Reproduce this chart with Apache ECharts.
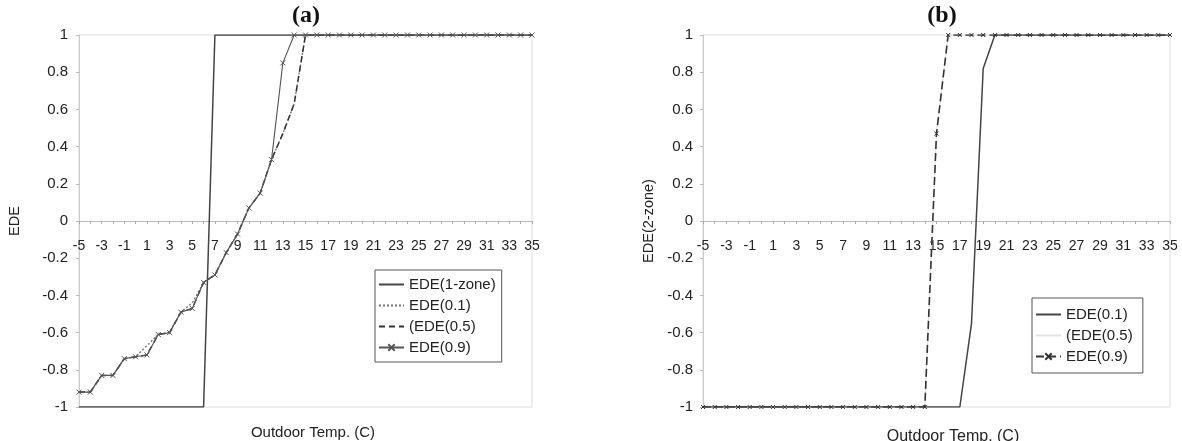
<!DOCTYPE html>
<html>
<head>
<meta charset="utf-8">
<script src="https://cdn.jsdelivr.net/npm/echarts@6/dist/echarts.min.js"></script>
<style>html,body{margin:0;padding:0;background:#fff}#c{width:1182px;height:441px}</style>
</head>
<body>
<div id="c"></div>
<script>
// Outdoor temperature categories (C)
const temps = [-5,-4,-3,-2,-1,0,1,2,3,4,5,6,7,8,9,10,11,12,13,14,15,16,17,18,19,20,21,22,23,24,25,26,27,28,29,30,31,32,33,34,35];
const yTicks = [-1,-0.8,-0.6,-0.4,-0.2,0,0.2,0.4,0.6,0.8,1];

// Panel (a)
const a_ede1zone = [-1,-1,-1,-1,-1,-1,-1,-1,-1,-1,-1,-1,1,1,1,1,1,1,1,1,1,1,1,1,1,1,1,1,1,1,1,1,1,1,1,1,1,1,1,1,1];
const a_ede01 = [-0.92,-0.92,-0.83,-0.83,-0.74,-0.73,-0.67,-0.61,-0.6,-0.49,-0.44,-0.33,-0.29,-0.17,-0.07,0.07,0.15,0.33,0.47,0.63,1,1,1,1,1,1,1,1,1,1,1,1,1,1,1,1,1,1,1,1,1];
const a_ede05 = [-0.92,-0.92,-0.83,-0.83,-0.74,-0.73,-0.72,-0.61,-0.6,-0.49,-0.47,-0.33,-0.29,-0.17,-0.07,0.07,0.15,0.33,0.47,0.63,1,1,1,1,1,1,1,1,1,1,1,1,1,1,1,1,1,1,1,1,1];
const a_ede09 = [-0.92,-0.92,-0.83,-0.83,-0.74,-0.73,-0.72,-0.61,-0.6,-0.49,-0.47,-0.33,-0.29,-0.17,-0.07,0.07,0.15,0.33,0.85,1,1,1,1,1,1,1,1,1,1,1,1,1,1,1,1,1,1,1,1,1,1];

// Panel (b)
const b_ede01 = [-1,-1,-1,-1,-1,-1,-1,-1,-1,-1,-1,-1,-1,-1,-1,-1,-1,-1,-1,-1,-1,-1,-1,-0.55,0.82,1,1,1,1,1,1,1,1,1,1,1,1,1,1,1,1];
const b_ede05 = [-1,-1,-1,-1,-1,-1,-1,-1,-1,-1,-1,-1,-1,-1,-1,-1,-1,-1,-1,-1,0.47,1,1,1,1,1,1,1,1,1,1,1,1,1,1,1,1,1,1,1,1];
const b_ede09 = [-1,-1,-1,-1,-1,-1,-1,-1,-1,-1,-1,-1,-1,-1,-1,-1,-1,-1,-1,-1,0.47,1,1,1,1,1,1,1,1,1,1,1,1,1,1,1,1,1,1,1,1];

const FONT = 'Liberation Sans, Arial, sans-serif';
const SERIF = 'Liberation Serif, Times New Roman, serif';
const xMark = 'path://M0,0L10,10M10,0L0,10';
const HIDE = 'rgba(0,0,0,0)';

function xAxisFor(idx) {
  return {
    type: 'category', gridIndex: idx, data: temps, boundaryGap: false,
    position: 'bottom', offset: -186,
    axisLine: { onZero: false, lineStyle: { color: '#bbb', width: 1 } },
    axisTick: { show: true, interval: 0, length: 3, lineStyle: { color: '#aaa' } },
    axisLabel: { interval: 1, color: '#222', fontSize: 14, fontFamily: FONT, margin: 18 },
    splitLine: { show: false }
  };
}
function yAxisFor(idx, name, gap, margin) {
  return {
    type: 'value', gridIndex: idx, min: -1, max: 1, interval: 0.2,
    name: name, nameLocation: 'middle', nameGap: gap, nameRotate: 90,
    nameTextStyle: { color: '#222', fontSize: 14.5, fontFamily: FONT },
    axisLine: { show: true, onZero: false, lineStyle: { color: '#ccc' } },
    axisTick: { show: true, length: 3, lineStyle: { color: '#bbb' } },
    axisLabel: { color: '#222', fontSize: 15, fontFamily: FONT, margin: margin,
      formatter: v => String(Math.round(v * 10) / 10) },
    splitLine: { show: false }
  };
}
function legendFor(left, top, pad, names) {
  return {
    orient: 'vertical', left: left, top: top, padding: pad, itemGap: 4,
    itemWidth: 25, itemHeight: 8, borderColor: '#555', borderWidth: 1, borderRadius: 0,
    textStyle: { fontFamily: FONT, fontSize: 15, color: '#222', lineHeight: 17 },
    data: names
  };
}

const option = {
  backgroundColor: '#fff',
  animation: false,
  title: [
    { text: '(a)', left: 301, top: -1, textAlign: 'center',
      textStyle: { fontFamily: SERIF, fontWeight: 'bold', fontSize: 24, color: '#111' } },
    { text: '(b)', left: 937, top: -1, textAlign: 'center',
      textStyle: { fontFamily: SERIF, fontWeight: 'bold', fontSize: 24, color: '#111' } },
    { text: 'Outdoor Temp. (C)', left: 308, top: 420, textAlign: 'center',
      textStyle: { fontFamily: FONT, fontWeight: 'normal', fontSize: 15, color: '#222' } },
    { text: 'Outdoor Temp. (C)', left: 948, top: 424, textAlign: 'center',
      textStyle: { fontFamily: FONT, fontWeight: 'normal', fontSize: 16, color: '#222' } }
  ],
  grid: [
    { left: 79, right: 650, top: 35, bottom: 34, show: true, borderColor: '#ddd', borderWidth: 1 },
    { left: 703, right: 12, top: 35, bottom: 34, show: true, borderColor: '#ddd', borderWidth: 1 }
  ],
  xAxis: [xAxisFor(0), xAxisFor(1)],
  yAxis: [yAxisFor(0, 'EDE', 57, 11), yAxisFor(1, 'EDE(2-zone)', 47, 10)],
  legend: [
    legendFor(375, 270, [6, 6, 6, 3], ['EDE(1-zone)', 'EDE(0.1)', '(EDE(0.5)', 'EDE(0.9)']),
    legendFor(1032, 298, [8, 6, 8, 3], ['EDE(0.1) ', '(EDE(0.5) ', 'EDE(0.9) '])
  ],
  series: [
    { name: 'EDE(1-zone)', type: 'line', xAxisIndex: 0, yAxisIndex: 0, data: a_ede1zone,
      symbol: 'circle', showSymbol: false, lineStyle: { color: '#444', width: 1.5 }, itemStyle: { color: HIDE } },
    { name: 'EDE(0.1)', type: 'line', xAxisIndex: 0, yAxisIndex: 0, data: a_ede01,
      symbol: 'circle', showSymbol: false, lineStyle: { color: '#777', width: 1.4, type: [2, 2] }, itemStyle: { color: HIDE } },
    { name: '(EDE(0.5)', type: 'line', xAxisIndex: 0, yAxisIndex: 0, data: a_ede05,
      symbol: 'circle', showSymbol: false, lineStyle: { color: '#333', width: 1.5, type: [6, 4] }, itemStyle: { color: HIDE } },
    { name: 'EDE(0.9)', type: 'line', xAxisIndex: 0, yAxisIndex: 0, data: a_ede09,
      symbol: xMark, symbolSize: 5, showAllSymbol: true,
      lineStyle: { color: '#555', width: 1.1 }, itemStyle: { color: '#555', borderColor: '#555', borderWidth: 1 } },

    { name: '(EDE(0.5) ', type: 'line', xAxisIndex: 1, yAxisIndex: 1, data: b_ede05,
      symbol: 'circle', showSymbol: false, lineStyle: { color: '#e2e2e2', width: 1.2 }, itemStyle: { color: HIDE } },
    { name: 'EDE(0.1) ', type: 'line', xAxisIndex: 1, yAxisIndex: 1, data: b_ede01,
      symbol: 'circle', showSymbol: false, lineStyle: { color: '#444', width: 1.5 }, itemStyle: { color: HIDE } },
    { name: 'EDE(0.9) ', type: 'line', xAxisIndex: 1, yAxisIndex: 1, data: b_ede09,
      symbol: xMark, symbolSize: 4, showAllSymbol: true,
      lineStyle: { color: '#333', width: 1.6, type: [8, 4] }, itemStyle: { color: '#333', borderColor: '#333', borderWidth: 1 } }
  ]
};

const chart = echarts.init(document.getElementById('c'), null, { renderer: 'canvas' });
chart.setOption(option);
</script>
</body>
</html>
